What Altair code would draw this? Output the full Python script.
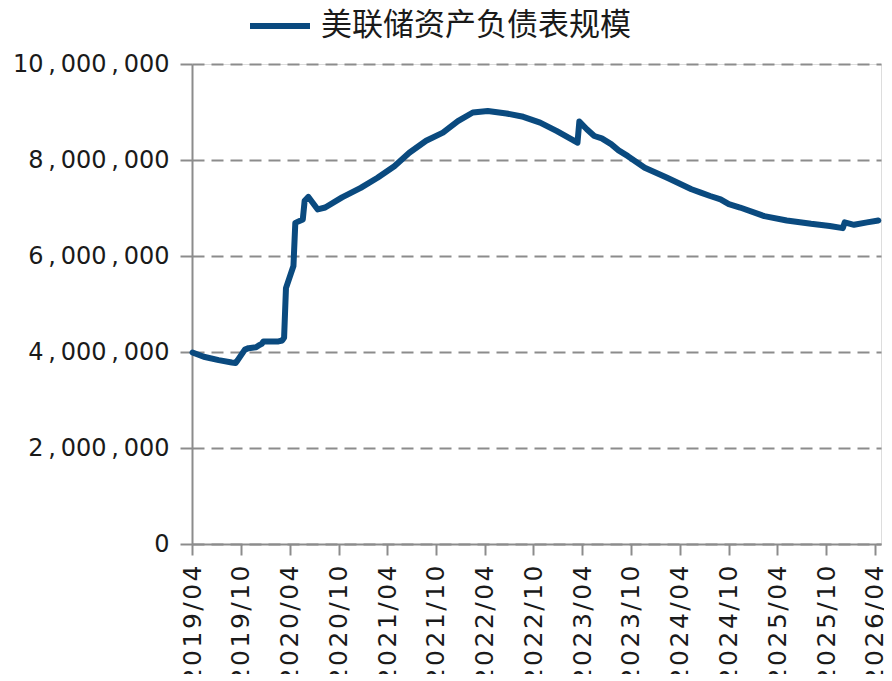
import altair as alt
import pandas as pd

# Weekly Fed balance sheet readings (USD millions)
dates = [
    "2019-04-03", "2019-05-15", "2019-07-10", "2019-08-28", "2019-09-11", "2019-09-18",
    "2019-10-16", "2019-10-30", "2019-11-27", "2019-12-11", "2019-12-18", "2019-12-25",
    "2020-01-22", "2020-02-19", "2020-03-04", "2020-03-11", "2020-03-18", "2020-04-15",
    "2020-04-22", "2020-05-20", "2020-05-27", "2020-06-10", "2020-07-15", "2020-08-12",
    "2020-10-14", "2020-12-23", "2021-02-24", "2021-04-28", "2021-06-23", "2021-08-25",
    "2021-10-27", "2021-12-22", "2022-02-16", "2022-04-13", "2022-06-22", "2022-08-24",
    "2022-10-26", "2022-12-28", "2023-03-15", "2023-03-22", "2023-04-19", "2023-05-17",
    "2023-06-14", "2023-07-19", "2023-08-16", "2023-09-20", "2023-11-22", "2024-02-14",
    "2024-05-15", "2024-06-19", "2024-07-24", "2024-09-01", "2024-10-02", "2024-11-13",
    "2025-02-12", "2025-05-07", "2025-08-06", "2025-10-15", "2025-12-03", "2025-12-10",
    "2026-01-14", "2026-03-04", "2026-04-15",
]
values = [
    3990000, 3900000, 3830000, 3780000, 3770000, 3820000,
    4050000, 4080000, 4100000, 4150000, 4170000, 4220000,
    4220000, 4220000, 4240000, 4300000, 5330000, 5790000,
    6690000, 6760000, 7150000, 7230000, 6970000, 7010000,
    7220000, 7420000, 7630000, 7870000, 8150000, 8400000,
    8570000, 8810000, 8990000, 9020000, 8970000, 8900000,
    8780000, 8600000, 8360000, 8800000, 8640000, 8500000,
    8450000, 8330000, 8200000, 8080000, 7840000, 7630000,
    7390000, 7320000, 7250000, 7180000, 7080000, 7010000,
    6830000, 6740000, 6670000, 6625000, 6580000, 6700000,
    6650000, 6700000, 6740000,
]
series_name = "美联储资产负债表规模"
y_ticks = [0, 2000000, 4000000, 6000000, 8000000, 10000000]
x_tick_years_months = [(y, m) for y in range(2019, 2027) for m in (4, 10)][:-1]

df = pd.DataFrame({"date": dates, "value": values, "series": series_name})

line_color = "#0a4a7f"
axis_gray = "#8c8c8c"
text_color = "#1a1a1a"
thin = "\u2009"
hair = "\u200a"

x_axis = alt.Axis(
    values=[alt.DateTime(year=y, month=m, date=1, utc=True) for y, m in x_tick_years_months],
    labelExpr=f"join(split(utcFormat(datum.value, '%Y/%m'), ''), '{hair}')",
    labelAngle=270,
    labelFont="DejaVu Sans",
    labelFontSize=25,
    labelColor=text_color,
    labelPadding=10,
    labelOverlap=False,
    tickSize=11,
    tickColor=axis_gray,
    tickWidth=2,
    domainColor=axis_gray,
    domainWidth=2,
    grid=False,
    title=None,
)

y_axis = alt.Axis(
    values=y_ticks,
    labelExpr=f"join(split(format(datum.value, ','), ','), '{thin},{thin}')",
    labelFont="DejaVu Sans",
    labelFontSize=24,
    labelColor=text_color,
    labelPadding=11,
    tickSize=12,
    tickColor=axis_gray,
    tickWidth=2,
    domainColor=axis_gray,
    domainWidth=2,
    grid=True,
    gridColor=axis_gray,
    gridWidth=2,
    gridDash=[12, 7],
    title=None,
)

chart = alt.Chart(df).mark_line(
    strokeWidth=6, strokeCap="round", strokeJoin="round"
).encode(
    x=alt.X(
        "date:T",
        scale=alt.Scale(
            type="utc",
            domain=[
                alt.DateTime(year=2019, month=4, date=1, utc=True),
                alt.DateTime(year=2026, month=4, date=25, utc=True),
            ],
        ),
        axis=x_axis,
    ),
    y=alt.Y("value:Q", scale=alt.Scale(domain=[0, 10000000]), axis=y_axis),
    color=alt.Color(
        "series:N",
        scale=alt.Scale(range=[line_color]),
        legend=alt.Legend(
            orient="none",
            legendX=55,
            legendY=-71,
            title=None,
            symbolType="stroke",
            symbolSize=3600,
            symbolStrokeWidth=6,
            labelFont="Noto Sans CJK SC",
            labelFontSize=31,
            labelColor=text_color,
            labelOffset=8,
            labelLimit=600,
        ),
    ),
).properties(
    width=689,
    height=480,
    autosize=alt.AutoSizeParams(type="none"),
    padding={"left": 184, "top": 56, "right": 3, "bottom": 130},
).configure_view(strokeWidth=0).configure(background="white")

chart.save("out.html", embed_options={"renderer": "svg", "actions": False})
